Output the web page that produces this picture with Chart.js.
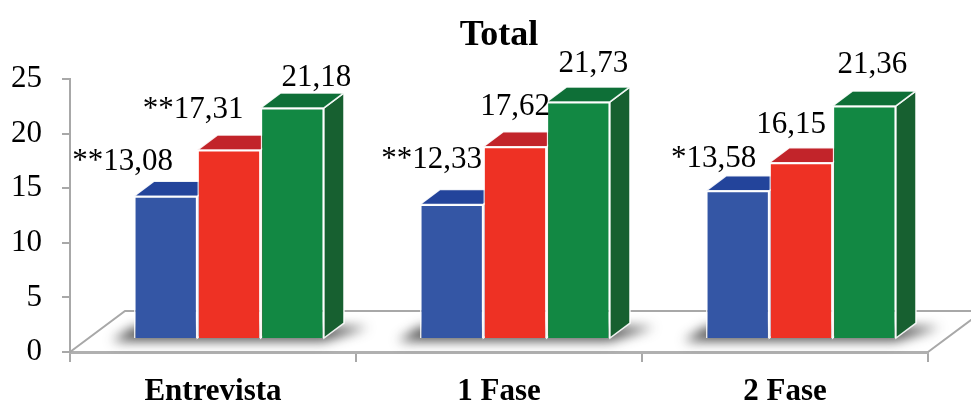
<!DOCTYPE html>
<html>
<head>
<meta charset="utf-8">
<title>Total</title>
<script src="https://cdn.jsdelivr.net/npm/chart.js@4.4.1/dist/chart.umd.min.js"></script>
<style>
  html, body { margin: 0; padding: 0; background: #fff; }
  #wrap { width: 971px; height: 405px; }
</style>
</head>
<body>
<div id="wrap"><canvas id="totalChart" width="971" height="405"></canvas></div>
<script>
const categories = ["Entrevista", "1 Fase", "2 Fase"];
const blueValues = [13.08, 12.33, 13.58];
const redValues = [17.31, 17.62, 16.15];
const greenValues = [21.18, 21.73, 21.36];
// significance marks printed before each value
const blueMarks = ["**", "**", "*"];
const redMarks = ["**", "", ""];
const greenMarks = ["", "", ""];
const yTicks = [0, 5, 10, 15, 20, 25];

const serif = "'Liberation Serif', 'Times New Roman', serif";

// label nudges [dx, dy] measured from the top-front centre of each bar
const blueNudge = [[-43, -26], [-20, -36], [-24, -24]];
const redNudge = [[-36, -32], [0, -32], [-10, -30]];
const greenNudge = [[24, -22], [15, -30], [8, -33]];

const DEPTH = { x: 20, y: -15 };   // bar depth
const SHIFT = { x: 16, y: -13 };   // bars sit a bit back on the floor
const FLOOR = { x: 55, y: -41 };   // floor depth

const faces = [
  { front: "#3456a5", top: "#23449b", side: "#1f3a84", marks: blueMarks, nudge: blueNudge },
  { front: "#ee3124", top: "#c2242a", side: "#a51f22", marks: redMarks, nudge: redNudge },
  { front: "#128843", top: "#0e6f37", side: "#176030", marks: greenMarks, nudge: greenNudge }
];

function poly(ctx, pts) {
  ctx.beginPath();
  ctx.moveTo(pts[0][0], pts[0][1]);
  for (let k = 1; k < pts.length; k++) ctx.lineTo(pts[k][0], pts[k][1]);
  ctx.closePath();
}

const bars3d = {
  id: "bars3d",
  beforeDatasetsDraw(chart) {
    const ctx = chart.ctx;
    const a = chart.chartArea;

    // floor outline (front edge is the x axis border)
    ctx.save();
    ctx.strokeStyle = "#a8a8a8";
    ctx.lineWidth = 2;
    ctx.beginPath();
    ctx.moveTo(a.left, a.bottom);
    ctx.lineTo(a.left + FLOOR.x, a.bottom + FLOOR.y);
    ctx.lineTo(a.right + FLOOR.x, a.bottom + FLOOR.y);
    ctx.lineTo(a.right, a.bottom);
    ctx.stroke();
    ctx.restore();

    ctx.save();
    ctx.translate(SHIFT.x, SHIFT.y);
    const metas = chart.data.datasets.map((d, i) => chart.getDatasetMeta(i));

    // soft shadow under each group
    categories.forEach((c, j) => {
      const first = metas[0].data[j];
      const last = metas[metas.length - 1].data[j];
      const left = first.x - first.width / 2;
      const right = last.x + last.width / 2;
      const base = first.base;
      ctx.save();
      ctx.filter = "blur(6px)";
      ctx.fillStyle = "rgba(35,35,35,0.8)";
      poly(ctx, [
        [left - 22, base + 3],
        [right, base + 3],
        [right + DEPTH.x + 24, base + DEPTH.y + 4],
        [left + DEPTH.x - 20, base + DEPTH.y + 4]
      ]);
      ctx.fill();
      ctx.restore();
    });

    // side and top faces, fronts are drawn by Chart.js afterwards
    ctx.lineWidth = 1.5;
    ctx.strokeStyle = "rgba(255,255,255,0.9)";
    metas.forEach((meta, i) => {
      meta.data.forEach(bar => {
        const l = bar.x - bar.width / 2;
        const r = bar.x + bar.width / 2;
        const t = bar.y;
        const b = bar.base;
        ctx.fillStyle = faces[i].side;
        poly(ctx, [[r, t], [r + DEPTH.x, t + DEPTH.y], [r + DEPTH.x, b + DEPTH.y], [r, b]]);
        ctx.fill();
        ctx.stroke();
        ctx.fillStyle = faces[i].top;
        poly(ctx, [[l, t], [l + DEPTH.x, t + DEPTH.y], [r + DEPTH.x, t + DEPTH.y], [r, t]]);
        ctx.fill();
        ctx.stroke();
      });
    });
    // translation stays on while the bar fronts are drawn
  },
  afterDatasetsDraw(chart) {
    const ctx = chart.ctx;
    ctx.fillStyle = "#000";
    ctx.font = "31px " + serif;
    ctx.textAlign = "center";
    ctx.textBaseline = "alphabetic";
    chart.data.datasets.forEach((ds, i) => {
      chart.getDatasetMeta(i).data.forEach((bar, j) => {
        const txt = faces[i].marks[j] + ds.data[j].toFixed(2).replace(".", ",");
        const n = faces[i].nudge[j];
        ctx.fillText(txt, bar.x + n[0], bar.y + n[1]);
      });
    });
    ctx.restore();
  }
};

new Chart(document.getElementById("totalChart"), {
  type: "bar",
  data: {
    labels: categories,
    datasets: [
      { data: blueValues, backgroundColor: faces[0].front },
      { data: redValues, backgroundColor: faces[1].front },
      { data: greenValues, backgroundColor: faces[2].front }
    ]
  },
  options: {
    responsive: false,
    animation: false,
    events: [],
    layout: { padding: { left: 11, right: 43, top: 0, bottom: 0 } },
    datasets: {
      bar: {
        categoryPercentage: 0.664,
        barPercentage: 1,
        borderWidth: 1.5,
        borderColor: "rgba(255,255,255,0.9)",
        clip: false
      }
    },
    plugins: {
      legend: { display: false },
      tooltip: { enabled: false },
      title: {
        display: true,
        text: "Total",
        fullSize: false,
        color: "#000",
        font: { family: serif, size: 36, weight: "bold" },
        padding: { top: 14, bottom: 22 }
      }
    },
    scales: {
      x: {
        afterFit: s => { s.height = 53; },
        grid: { drawOnChartArea: false, color: "#a8a8a8", lineWidth: 2, tickLength: 10 },
        border: { color: "#b0b0b0", width: 3 },
        ticks: { color: "#000", padding: 11, font: { family: serif, size: 31, weight: "bold" } }
      },
      y: {
        min: 0,
        max: 25,
        afterFit: s => { s.width = 59; },
        afterBuildTicks: scale => { scale.ticks = yTicks.map(v => ({ value: v })); },
        grid: { drawOnChartArea: false, color: "#a8a8a8", lineWidth: 2, tickLength: 8 },
        border: { color: "#a8a8a8", width: 2 },
        ticks: { color: "#000", padding: 20, font: { family: serif, size: 31 } }
      }
    }
  },
  plugins: [bars3d]
});
</script>
</body>
</html>
